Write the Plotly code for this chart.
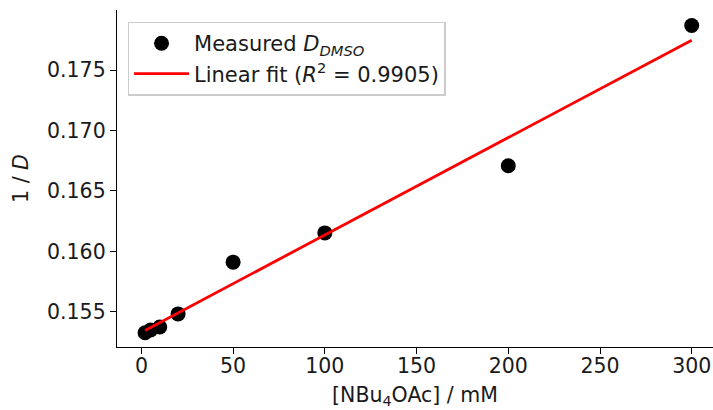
import numpy as np
import plotly.graph_objects as go

conc_mM = [2, 5, 10, 20, 50, 100, 200, 300]
inv_D = [0.15327, 0.15350, 0.15375, 0.15483, 0.15911, 0.16153, 0.16708, 0.17869]
x_ticks = [0, 50, 100, 150, 200, 250, 300]
y_ticks = [0.155, 0.160, 0.165, 0.170, 0.175]

slope, intercept = np.polyfit(conc_mM, inv_D, 1)
fit_x = [min(conc_mM), max(conc_mM)]
fit_y = [slope * v + intercept for v in fit_x]

FONT = "DejaVu Sans"
fs = 20.5
TXT = "#1a1a1a"

fig = go.Figure()
fig.add_trace(go.Scatter(
    x=conc_mM, y=inv_D, mode="markers",
    marker=dict(color="black", size=15),
    name="Measured <i>D</i><sub><i>DMSO</i></sub>",
))
fig.add_trace(go.Scatter(
    x=fit_x, y=fit_y, mode="lines",
    line=dict(color="red", width=2.8),
    name="Linear fit (<i>R</i><sup>2</sup> = 0.9905)",
))

fig.update_layout(
    width=713, height=410,
    margin=dict(l=117, r=0, t=10, b=63),
    paper_bgcolor="white", plot_bgcolor="white",
    font=dict(family=FONT, size=fs, color=TXT),
    showlegend=True,
    legend=dict(
        x=0.018, y=0.965, xanchor="left", yanchor="top",
        bgcolor="rgba(255,255,255,0.8)", bordercolor="#cccccc", borderwidth=1.3,
        font=dict(family=FONT, size=21, color=TXT),
        itemwidth=55, tracegroupgap=0,
    ),
    xaxis=dict(
        range=[-13.3, 311.6], tickvals=x_ticks, ticktext=[str(v) for v in x_ticks],
        showline=True, linecolor="black", linewidth=1.4, mirror=False,
        ticks="outside", ticklen=6, tickwidth=1.4, tickcolor="black",
        ticklabelstandoff=-6,
        showgrid=False, zeroline=False,
        title=dict(text="[NBu<sub>4</sub>OAc] / mM", font=dict(family=FONT, size=fs), standoff=10),
    ),
    yaxis=dict(
        range=[0.15209, 0.17997], tickvals=y_ticks, ticktext=[f"{v:.3f}" for v in y_ticks],
        showline=True, linecolor="black", linewidth=1.4, mirror=False,
        ticks="outside", ticklen=6, tickwidth=1.4, tickcolor="black",
        showgrid=False, zeroline=False,
        title=dict(text="1 / <i>D</i>", font=dict(family=FONT, size=fs), standoff=12),
    ),
)

fig.write_html("out.html")
